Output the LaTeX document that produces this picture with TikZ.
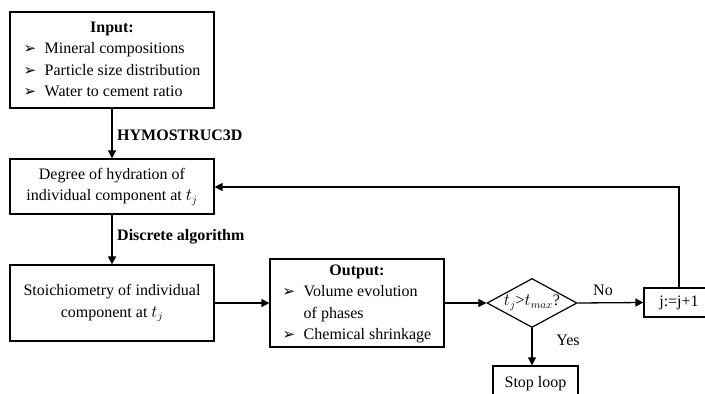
\documentclass[tikz,border=0pt]{standalone}
\usepackage{fontspec}
\setmainfont{Liberation Serif}
\newfontfamily\dvfont{DejaVu Sans}
\usetikzlibrary{shapes.geometric,arrows.meta}
\newcommand\bulitem{\makebox[21pt][l]{\raisebox{0pt}{\dvfont\fontsize{15}{15}\selectfont ➢}}}
\tikzset{
  box/.style={draw, line width=1.2pt, rectangle, inner sep=0pt, align=center},
  arr/.style={line width=1.3pt, -{Triangle[length=8pt,width=8pt]}},
  lbl/.style={inner sep=0pt, anchor=west, font=\fontsize{16}{21.5}\selectfont\bfseries},
  plain/.style={inner sep=0pt}
}
\begin{document}
\begin{tikzpicture}[x=1pt, y=-1pt, font=\fontsize{16}{21.5}\selectfont]
\useasboundingbox (0,0) rectangle (705,394);
\clip (0,0) rectangle (705,394);
\fill[white] (0,0) rectangle (705,394);

\node[box, minimum width=204pt, minimum height=96pt] (input) at (112,60)
 {\begin{tabular}{@{}l@{}}\multicolumn{1}{@{}c@{}}{\textbf{Input:}}\\
  \bulitem Mineral compositions\\
  \bulitem Particle size distribution\\
  \bulitem Water to cement ratio\end{tabular}};

\node[box, minimum width=204pt, minimum height=55pt] (degree) at (112,186.5)
 {\fontsize{16}{27}\selectfont Degree of hydration of\\ individual component at $t_j$};

\node[box, minimum width=204pt, minimum height=76pt] (stoich) at (112,303)
 {\fontsize{16}{27}\selectfont Stoichiometry of individual\\ component at $t_j$};

\node[box, minimum width=174pt, minimum height=88pt] (output) at (357,303)
 {\begin{tabular}{@{}l@{}}\multicolumn{1}{@{}c@{}}{\textbf{Output:}}\\
  \bulitem Volume evolution\\
  \hspace*{21pt}of phases\\
  \bulitem Chemical shrinkage\end{tabular}};

\node[diamond, draw, line width=1.2pt, inner sep=0pt, aspect=1.84,
      minimum width=90pt, minimum height=49pt] (dec) at (532,303) {};
\node[plain] (dectext) at (532,303) {$t_j$>$t_{max}$?};

\node[box, minimum width=70pt, minimum height=29pt] (jbox) at (679,302.5) {j:=j+1};

\node[box, minimum width=85pt, minimum height=36pt] (stop) at (535.5,384) {Stop loop};

\draw[arr] (input.south) -- (degree.north);
\draw[arr] (degree.south) -- (stoich.north);
\draw[arr] (stoich.east) -- (output.west);
\draw[arr] (output.east) -- (dec.west);
\draw[arr] (dec.east) -- (jbox.west);
\draw[arr] (dec.south) -- (dec.south |- stop.north);
\coordinate (fbcorner) at (679,187);
\draw[arr] (jbox.north) -- (fbcorner) -- (degree.east |- fbcorner);

\node[lbl] (l1) at (117,135) {HYMOSTRUC3D};
\node[lbl] (l2) at (117,237) {Discrete algorithm};
\node[plain] (lno) at (603,290) {No};
\node[plain] (lyes) at (568,340) {Yes};
\end{tikzpicture}
\end{document}
